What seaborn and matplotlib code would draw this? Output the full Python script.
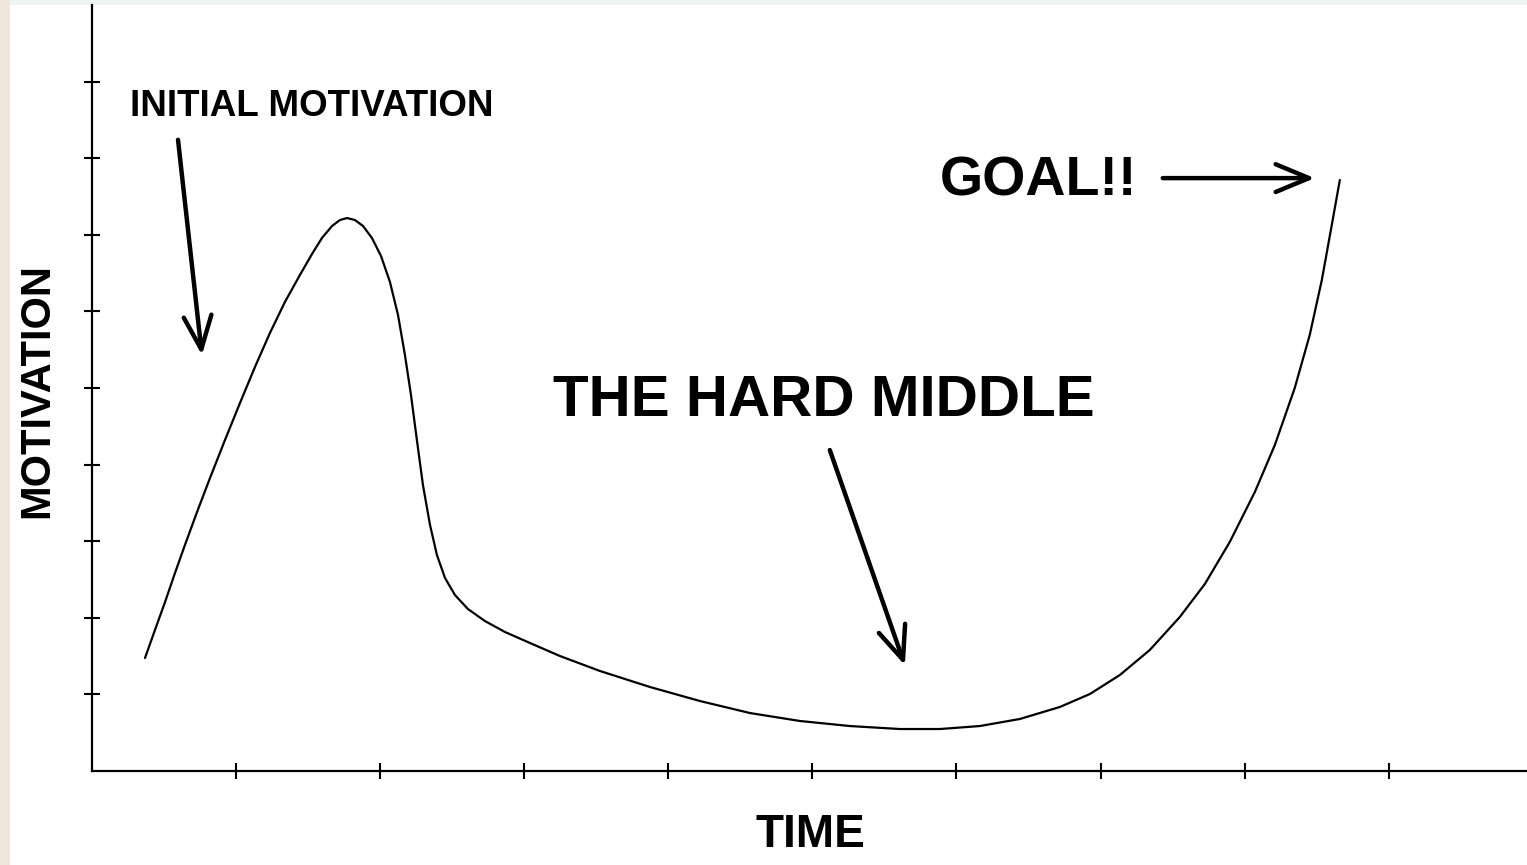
import matplotlib
matplotlib.use("Agg")
import matplotlib.pyplot as plt
import seaborn as sns
import pandas as pd
from matplotlib.patches import Rectangle

# ---- data ----
time_vals = [0.368, 0.437, 0.507, 0.576, 0.645, 0.729, 0.819, 0.923, 1.027,
             1.131, 1.235, 1.339, 1.443, 1.527, 1.596, 1.666, 1.721, 1.770,
             1.825, 1.881, 1.943, 2.006, 2.068, 2.124, 2.172, 2.214, 2.255,
             2.297, 2.346, 2.394, 2.450, 2.519, 2.609, 2.727, 2.866, 3.040,
             3.248, 3.525, 3.872, 4.219, 4.566, 4.913, 5.260, 5.607, 5.885,
             6.162, 6.440, 6.718, 6.926, 7.134, 7.342, 7.550, 7.724, 7.897,
             8.071, 8.210, 8.348, 8.452, 8.536, 8.605, 8.661]
motivation_vals = [1.475, 1.841, 2.206, 2.585, 2.950, 3.381, 3.825, 4.321, 4.804,
                   5.274, 5.718, 6.123, 6.475, 6.749, 6.958, 7.115, 7.193, 7.219,
                   7.193, 7.115, 6.958, 6.723, 6.384, 5.953, 5.431, 4.909, 4.321,
                   3.734, 3.212, 2.820, 2.520, 2.298, 2.115, 1.958, 1.815, 1.671,
                   1.501, 1.306, 1.097, 0.914, 0.757, 0.653, 0.587, 0.548, 0.548,
                   0.587, 0.679, 0.836, 1.005, 1.253, 1.580, 2.010, 2.441, 2.990,
                   3.642, 4.256, 5.000, 5.692, 6.410, 7.128, 7.716]

tick_positions = [1, 2, 3, 4, 5, 6, 7, 8, 9]

annot_texts = ["INITIAL MOTIVATION", "THE HARD MIDDLE", "GOAL!!"]
annot_text_xy = [(1.526, 8.68), (5.080, 4.83), (6.572, 7.69)]
arrow_start = [(0.597, 8.24), (5.121, 4.19), (7.432, 7.74)]
arrow_end = [(0.763, 5.43), (5.642, 1.38), (8.487, 7.74)]
annot_sizes = [26.5, 42, 40]

x_label = "TIME"
y_label = "MOTIVATION"

df = pd.DataFrame({"time": time_vals, "motivation": motivation_vals})

sns.set_style("white")
plt.rcParams["font.family"] = ["Liberation Sans Narrow", "Liberation Sans", "DejaVu Sans"]
plt.rcParams["font.weight"] = "bold"

fig = plt.figure(figsize=(15.27, 8.65), dpi=100)
fig.patch.set_facecolor("#eef4f4")
fig.patches.append(Rectangle((0, 0), 10 / 1527, 1, transform=fig.transFigure,
                             facecolor="#efe7dc", edgecolor="none", zorder=-2))
fig.patches.append(Rectangle((10 / 1527, 0), 1, 1 - 5 / 865, transform=fig.transFigure,
                             facecolor="white", edgecolor="none", zorder=-1))

ax = fig.add_axes([92 / 1527, 1 - 771 / 865, 1 - 92 / 1527, (771 - 5) / 865])
ax.patch.set_alpha(0)

sns.lineplot(data=df, x="time", y="motivation", ax=ax, color="black",
             linewidth=1.6, sort=False, solid_joinstyle="round",
             solid_capstyle="round")

ax.set_xlim(0, 9.96)
ax.set_ylim(0, 10)
ax.set_xticks(tick_positions)
ax.set_yticks(tick_positions)
ax.set_xticklabels([])
ax.set_yticklabels([])
ax.tick_params(direction="inout", length=11, width=1.5, color="black",
               bottom=True, left=True)

for side in ["top", "right"]:
    ax.spines[side].set_visible(False)
for side in ["left", "bottom"]:
    ax.spines[side].set_color("black")
    ax.spines[side].set_linewidth(1.6)

ax.set_xlabel(x_label, fontsize=33, fontweight="bold", va="center", color="black")
ax.xaxis.set_label_coords(0.5003, -0.0836)
ax.set_ylabel(y_label, fontsize=30, fontweight="bold", va="center", color="black")
ax.yaxis.set_label_coords(-0.0383, 0.497)

for txt, pos, size in zip(annot_texts, annot_text_xy, annot_sizes):
    ax.text(pos[0], pos[1], txt, fontsize=size, fontweight="bold",
            ha="center", va="center", color="black")

for s, e in zip(arrow_start, arrow_end):
    ax.annotate("", xy=e, xytext=s,
                arrowprops=dict(arrowstyle="->,head_length=1.2,head_width=0.5",
                                mutation_scale=20, color="black", lw=3.2,
                                shrinkA=0, shrinkB=0))

fig.savefig("out.png", dpi=100, facecolor=fig.get_facecolor())
